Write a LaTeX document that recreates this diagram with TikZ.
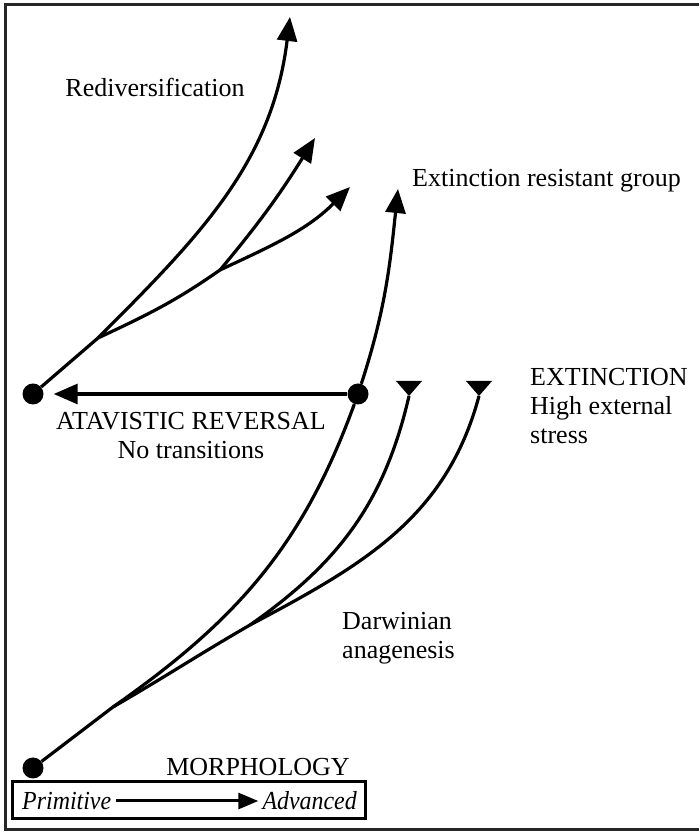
\documentclass[tikz,border=0pt]{standalone}
\usepackage{fontspec}
\setmainfont{Liberation Serif}
\usetikzlibrary{arrows.meta,positioning}

\tikzset{
    lineage/.style={line width=3.2pt},
    lineagearrow/.style={line width=3.2pt, -{Triangle[length=24pt,width=20pt]}},
    axisarrow/.style={line width=3pt, -{Triangle[length=20pt,width=16pt]}},
    dotnode/.style={circle, fill=black, inner sep=0pt, minimum size=21pt},
    txt/.style={inner sep=0pt, align=left}
}
\newcommand{\axisword}[1]{\scalebox{0.92}[1]{\itshape #1}}

\begin{document}
\begin{tikzpicture}[x=1pt, y=1pt, font=\fontsize{26}{29}\selectfont]
        \useasboundingbox (0,0) rectangle (699,834);

        % Outer frame (open to the right)
        \draw[line width=3pt, black!85] (699,829) -- (5,829) -- (5,4) -- (699,4);

        % Dots and branching points
        \node[dotnode] (base) at (33,66) {};
        \node[dotnode] (survivor) at (358,440) {};
        \node[dotnode] (reversal) at (33,440) {};
        \coordinate (split1) at (113,127);
        \coordinate (split2) at (250,209);
        \coordinate (dead1) at (409,438);
        \coordinate (dead2) at (479,438);
        \coordinate (resist) at (398,645);
        \coordinate (splitA) at (98,496);
        \coordinate (splitB) at (220,564);
        \coordinate (redivA) at (290,817);
        \coordinate (redivB) at (315,696);
        \coordinate (redivC) at (350,647);

        % Darwinian anagenesis
        \draw[lineage] (base) -- (split1);
        \draw[lineage] (split1) to[out=35, in=-110] (survivor);
        \draw[lineage] (split1) to[out=30, in=-150] (split2) to[out=28, in=-105] (dead2);
        \draw[lineage] (split2) to[out=35, in=-103] (dead1);

        % Extinction markers
        \foreach \d in {dead1, dead2}
            \fill (\d) -- ++(-13,15) -- ++(26,0) -- cycle;

        % Survivor and atavistic reversal
        \draw[lineagearrow] (survivor) to[out=72, in=-96] (resist);
        \draw[lineagearrow, shorten >=10pt] (survivor) -- (reversal);

        % Rediversification
        \draw[lineage] (reversal) -- (splitA);
        \draw[lineagearrow] (splitA) to[out=45, in=-97] (redivA);
        \draw[lineage] (splitA) to[out=25, in=-145] (splitB);
        \draw[lineagearrow] (splitB) to[out=50, in=-122] (redivB);
        \draw[lineagearrow] (splitB) to[out=25, in=-135] (redivC);

        % Labels
        \node (rediv) at (155,747) {Rediversification};
        \node[txt, anchor=west] (resistlabel) at (412,653) {Extinction resistant group};
        \node[txt, anchor=north west] (extinct) at (530,466) {EXTINCTION\\High external\\stress};
        \node[txt, align=center, anchor=north] (atavism) at (191,422) {ATAVISTIC REVERSAL\\No transitions};
        \node[txt, anchor=north west] (darwin) at (342,222) {Darwinian\\anagenesis};
        \node (morph) at (258,67) {MORPHOLOGY};

        % Morphology axis
        \draw[line width=3pt] (12,15) rectangle (365,52);
        \node[anchor=west, inner sep=5pt] (prim) at (17,33) {\axisword{Primitive}};
        \node[anchor=east, inner sep=4pt] (adv) at (361,33) {\axisword{Advanced}};
        \draw[axisarrow] (prim) -- (adv);

    \end{tikzpicture}
\end{document}
